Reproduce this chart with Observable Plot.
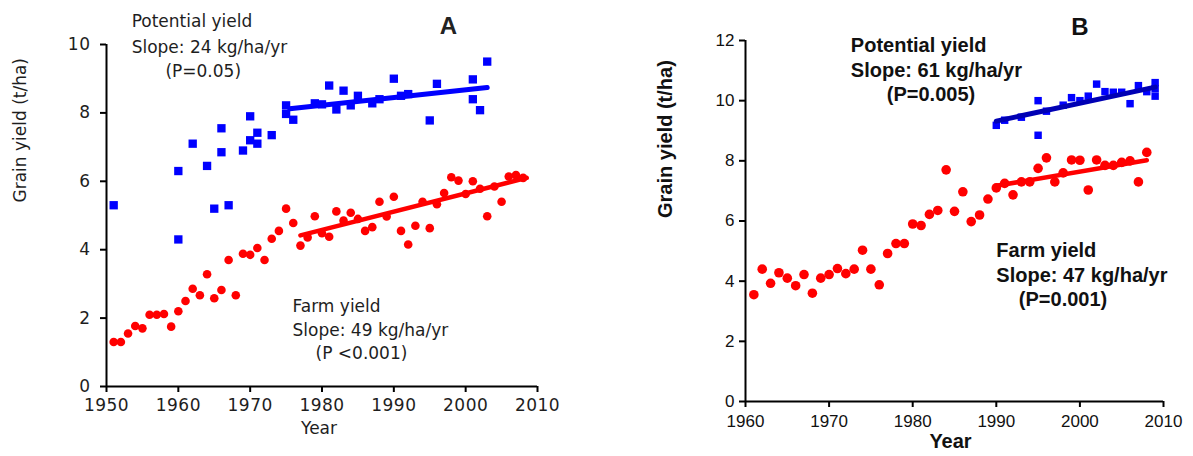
<!DOCTYPE html>
<html><head><meta charset="utf-8">
<script src="https://cdn.jsdelivr.net/npm/d3@7"></script>
<script src="https://cdn.jsdelivr.net/npm/@observablehq/plot@0.6"></script>
<style>
body{margin:0;background:#fff;}
#wrap{display:flex;width:1193px;height:456px;overflow:hidden;}
#wrap svg{display:block;}
</style></head><body><div id="wrap"></div>
<script>
// ---------- Panel A data ----------
const farmA_years = [1951,1952,1953,1954,1955,1956,1957,1958,1959,1960,1961,1962,1963,1964,1965,1966,1967,1968,1969,1970,1971,1972,1973,1974,1975,1976,1977,1978,1979,1980,1981,1982,1983,1984,1985,1986,1987,1988,1989,1990,1991,1992,1993,1994,1995,1996,1997,1998,1999,2000,2001,2002,2003,2004,2005,2006,2007,2008];
const farmA_yield = [1.30,1.30,1.55,1.77,1.70,2.10,2.10,2.12,1.75,2.20,2.50,2.86,2.67,3.28,2.58,2.82,3.70,2.67,3.88,3.85,4.05,3.70,4.32,4.55,5.20,4.78,4.12,4.36,4.98,4.48,4.38,5.12,4.85,5.08,4.90,4.55,4.66,5.40,4.97,5.55,4.55,4.15,4.70,5.40,4.63,5.33,5.66,6.12,6.02,5.63,6.00,5.78,4.98,5.85,5.40,6.14,6.18,6.10];
const potA_years = [1951,1960,1960,1962,1964,1965,1966,1966,1967,1969,1970,1970,1971,1971,1973,1975,1975,1976,1979,1980,1981,1982,1983,1984,1985,1987,1988,1990,1991,1992,1995,1996,2001,2001,2002,2003];
const potA_yield = [5.30,6.30,4.30,7.10,6.45,5.20,7.55,6.85,5.30,6.90,7.90,7.20,7.42,7.10,7.35,8.22,7.97,7.80,8.28,8.25,8.80,8.10,8.65,8.22,8.50,8.28,8.40,9.00,8.50,8.55,7.78,8.85,8.98,8.40,8.08,9.50];
const trendPotA_years = [1975.5, 2003];
const trendPotA_yield = [8.12, 8.74];
const trendFarmA_years = [1977, 2008.5];
const trendFarmA_yield = [4.42, 6.10];
const xTicksA = [1950,1960,1970,1980,1990,2000,2010];
const yTicksA = [0,2,4,6,8,10];

// ---------- Panel B data ----------
const farmB_years = [1961,1962,1963,1964,1965,1966,1967,1968,1969,1970,1971,1972,1973,1974,1975,1976,1977,1978,1979,1980,1981,1982,1983,1984,1985,1986,1987,1988,1989,1990,1991,1992,1993,1994,1995,1996,1997,1998,1999,2000,2001,2002,2003,2004,2005,2006,2007,2008];
const farmB_yield = [3.55,4.40,3.93,4.28,4.10,3.85,4.22,3.60,4.10,4.22,4.42,4.25,4.40,5.03,4.40,3.88,4.92,5.25,5.25,5.90,5.85,6.22,6.35,7.70,6.32,6.97,5.98,6.20,6.73,7.10,7.25,6.87,7.30,7.30,7.75,8.10,7.30,7.60,8.03,8.02,7.03,8.03,7.85,7.85,7.95,8.00,7.30,8.28];
const potB_years = [1990,1991,1993,1995,1995,1996,1998,1999,2000,2001,2002,2003,2004,2005,2006,2007,2008,2009,2009,2009];
const potB_yield = [9.18,9.35,9.45,10.00,8.85,9.65,9.85,10.10,10.00,10.15,10.55,10.30,10.28,10.28,9.90,10.50,10.30,10.60,10.40,10.15];
const trendPotB_years = [1990, 2009];
const trendPotB_yield = [9.32, 10.45];
const trendFarmB_years = [1990, 2008];
const trendFarmB_yield = [7.17, 8.02];
const xTicksB = [1960,1970,1980,1990,2000,2010];
const yTicksB = [0,2,4,6,8,10,12];

const toRows = (xs, ys) => xs.map((x, i) => ({year: x, yield: ys[i]}));

// ---------- Panel A ----------
const fA = "DejaVu Sans";
const inkA = "#1e1e1e";
const plotA = Plot.plot({
  width: 600, height: 456,
  marginLeft: 106, marginRight: 63, marginTop: 44, marginBottom: 70,
  x: {domain: [1950, 2010], label: null},
  y: {domain: [0, 10], label: null},
  style: {fontFamily: fA, background: "white"},
  marks: [
    Plot.axisY({ticks: yTicksA, tickSize: 6, tickPadding: 10, strokeWidth: 2, fontSize: 17, fill: inkA, label: null, tickFormat: "d"}),
    Plot.axisX({ticks: xTicksA, tickSize: 6, tickPadding: 6, strokeWidth: 2, fontSize: 17, fill: inkA, label: null, tickFormat: "d"}),
    Plot.ruleX([1950], {strokeWidth: 2}),
    Plot.ruleY([0], {strokeWidth: 2}),
    Plot.dot(toRows(potA_years, potA_yield), {x: "year", y: "yield", symbol: "square", r: 4.7, fill: "#0000ff"}),
    Plot.dot(toRows(farmA_years, farmA_yield), {x: "year", y: "yield", symbol: "circle", r: 4.3, fill: "#ff0000"}),
    Plot.line(toRows(trendPotA_years, trendPotA_yield), {x: "year", y: "yield", stroke: "#0000ff", strokeWidth: 5}),
    Plot.line(toRows(trendFarmA_years, trendFarmA_yield), {x: "year", y: "yield", stroke: "#ff0000", strokeWidth: 4.5}),
    Plot.text(["Potential yield"], {x: 1953.5, y: 10.67, textAnchor: "start", fontSize: 17, fill: inkA, ariaLabel: "annotA"}),
    Plot.text(["Slope: 24 kg/ha/yr"], {x: 1953.5, y: 9.91, textAnchor: "start", fontSize: 17, fill: inkA, ariaLabel: "annotA"}),
    Plot.text(["(P=0.05)"], {x: 1958.2, y: 9.21, textAnchor: "start", fontSize: 17, fill: inkA, ariaLabel: "annotA"}),
    Plot.text(["Farm yield"], {x: 1975.9, y: 2.34, textAnchor: "start", fontSize: 17, fill: inkA, ariaLabel: "annotA"}),
    Plot.text(["Slope: 49 kg/ha/yr"], {x: 1975.9, y: 1.64, textAnchor: "start", fontSize: 17, fill: inkA, ariaLabel: "annotA"}),
    Plot.text(["(P <0.001)"], {x: 1979.1, y: 0.96, textAnchor: "start", fontSize: 17, fill: inkA, ariaLabel: "annotA"}),
    Plot.text(["A"], {x: 1997.6, y: 10.53, fontSize: 24, fontWeight: "bold", fontFamily: "Liberation Sans", fill: "#222"}),
    Plot.text(["Grain yield (t/ha)"], {frameAnchor: "left", dx: -86, dy: -13, rotate: -90, fontSize: 17, fill: inkA, ariaLabel: "titleA"}),
    Plot.text(["Year"], {frameAnchor: "bottom", dx: -3, dy: 47, fontSize: 17, fill: inkA, ariaLabel: "titleA"})
  ]
});

// ---------- Panel B ----------
const fB = "Liberation Sans";
const plotB = Plot.plot({
  width: 593, height: 456,
  marginLeft: 145, marginRight: 30, marginTop: 40, marginBottom: 55,
  x: {domain: [1960, 2010], label: null},
  y: {domain: [0, 12], label: null},
  style: {fontFamily: fB, background: "white"},
  marks: [
    Plot.axisY({ticks: yTicksB, tickSize: 6, tickPadding: 5, strokeWidth: 2, fontSize: 17, fill: "#111", label: null, tickFormat: "d"}),
    Plot.axisX({ticks: xTicksB, tickSize: 6, tickPadding: 7, strokeWidth: 2, fontSize: 17, fill: "#111", label: null, tickFormat: "d"}),
    Plot.ruleX([1960], {strokeWidth: 2}),
    Plot.ruleY([0], {strokeWidth: 2}),
    Plot.dot(toRows(potB_years, potB_yield), {x: "year", y: "yield", symbol: "square", r: 4.2, fill: "#0000ff"}),
    Plot.dot(toRows(farmB_years, farmB_yield), {x: "year", y: "yield", symbol: "circle", r: 4.8, fill: "#ff0000"}),
    Plot.line(toRows(trendPotB_years, trendPotB_yield), {x: "year", y: "yield", stroke: "#0000b4", strokeWidth: 5}),
    Plot.line(toRows(trendFarmB_years, trendFarmB_yield), {x: "year", y: "yield", stroke: "#ff0000", strokeWidth: 4.5}),
    Plot.text(["Potential yield"], {x: 1972.6, y: 11.84, textAnchor: "start", fontSize: 20, fontWeight: "bold", fill: "#111", ariaLabel: "annotB"}),
    Plot.text(["Slope: 61 kg/ha/yr"], {x: 1972.6, y: 11.01, textAnchor: "start", fontSize: 20, fontWeight: "bold", fill: "#111", ariaLabel: "annotB"}),
    Plot.text(["(P=0.005)"], {x: 1976.9, y: 10.21, textAnchor: "start", fontSize: 20, fontWeight: "bold", fill: "#111", ariaLabel: "annotB"}),
    Plot.text(["Farm yield"], {x: 1990.0, y: 5.03, textAnchor: "start", fontSize: 20, fontWeight: "bold", fill: "#111", ariaLabel: "annotB"}),
    Plot.text(["Slope: 47 kg/ha/yr"], {x: 1990.0, y: 4.20, textAnchor: "start", fontSize: 20, fontWeight: "bold", fill: "#111", ariaLabel: "annotB"}),
    Plot.text(["(P=0.001)"], {x: 1992.7, y: 3.40, textAnchor: "start", fontSize: 20, fontWeight: "bold", fill: "#111", ariaLabel: "annotB"}),
    Plot.text(["B"], {x: 2000, y: 12.44, fontSize: 24, fontWeight: "bold", fill: "#111"}),
    Plot.text(["Grain yield (t/ha)"], {frameAnchor: "left", dx: -80, dy: -3, rotate: -90, fontSize: 20, fontWeight: "bold", fill: "#111", ariaLabel: "annotB"}),
    Plot.text(["Year"], {frameAnchor: "bottom", dx: -4, dy: 46, fontSize: 20, fontWeight: "bold", fill: "#111", ariaLabel: "annotB"})
  ]
});

const wrap = document.getElementById("wrap");
wrap.appendChild(plotA);
wrap.appendChild(plotB);
d3.select(plotA).selectAll('g[aria-label="annotA"] text').style("letter-spacing", "2.4px");
d3.select(plotA).selectAll('g[aria-label="titleA"] text').style("letter-spacing", "2px");
d3.select(plotA).selectAll('g[aria-label="y-axis tick label"] text, g[aria-label="x-axis tick label"] text').style("letter-spacing", "0.5px");
d3.select(plotB).selectAll('g[aria-label="annotB"] text').style("letter-spacing", "1px");
</script></body></html>
